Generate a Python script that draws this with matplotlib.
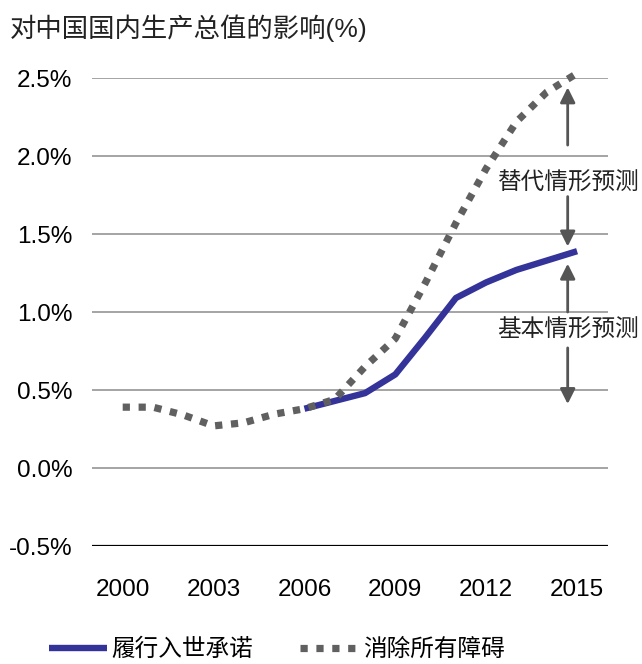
import matplotlib
matplotlib.use("Agg")
import matplotlib.pyplot as plt

# data
years = list(range(2000, 2016))
xiaochu = [0.39, 0.39, 0.34, 0.27, 0.29, 0.345, 0.38, 0.44, 0.65, 0.83,
           1.19, 1.57, 1.92, 2.22, 2.41, 2.53]
lvxing_years = list(range(2006, 2016))
lvxing = [0.38, 0.43, 0.48, 0.60, 0.84, 1.09, 1.19, 1.27, 1.33, 1.39]
xtick_years = [2000, 2003, 2006, 2009, 2012, 2015]
yticks = [-0.5, 0.0, 0.5, 1.0, 1.5, 2.0, 2.5]

title = "对中国国内生产总值的影响(%)"
label_lvxing = "履行入世承诺"
label_xiaochu = "消除所有障碍"
note_alt = "替代情形预测"
note_base = "基本情形预测"

fam = ["Liberation Sans", "Noto Sans CJK SC"]
plt.rcParams["font.family"] = fam

blue = "#333399"
gray = "#606060"
arrow_c = "#555555"

fig = plt.figure(figsize=(6.42, 6.64), dpi=100)
ax = fig.add_axes([0.143, 0.1777, 0.804, 0.7048])

for v in yticks:
    ax.axhline(v, color="black" if v == -0.5 else "#8c8c8c",
               lw=1.6 if v == -0.5 else 1.1, zorder=1)

ax.plot(lvxing_years, lvxing, color=blue, lw=4.6, solid_capstyle="butt",
        zorder=3, label=label_lvxing, clip_on=False)
ax.plot(years, xiaochu, color=gray, lw=5.2, linestyle=(0, (1.0, 1.2)),
        dash_capstyle="butt", zorder=4, label=label_xiaochu, clip_on=False)

ax.set_xlim(1998.98, 2016.02)
ax.set_ylim(-0.5, 2.5)
ax.set_xticks(xtick_years)
ax.set_xticklabels([str(y) for y in xtick_years])
ax.set_yticks(yticks)
ax.set_yticklabels(["%.1f%%" % v for v in yticks])
ax.tick_params(axis="both", length=0, labelsize=17.5)
ax.tick_params(axis="y", pad=14)
ax.tick_params(axis="x", pad=24)
for s in ax.spines.values():
    s.set_visible(False)

# arrows for the two scenario notes
ax_x = 2014.69
def arrow(y0, y1):
    ax.annotate("", xy=(ax_x, y1), xytext=(ax_x, y0),
                arrowprops=dict(arrowstyle="-|>,head_length=0.9,head_width=0.45",
                                color=arrow_c, lw=2, shrinkA=0, shrinkB=0),
                zorder=5)

arrow(2.07, 2.44)
arrow(1.74, 1.42)
arrow(1.00, 1.31)
arrow(0.77, 0.41)
ax.text(ax_x, 1.82, note_alt, ha="center", va="center", fontsize=17, color="#222222")
ax.text(ax_x, 0.88, note_base, ha="center", va="center", fontsize=17, color="#222222")

fig.text(0.0156, 0.958, title, ha="left", va="center", fontsize=19, color="#222222")

fig.legend(loc="lower left", bbox_to_anchor=(0.043, -0.028), ncol=2, frameon=False,
           fontsize=17, handlelength=2.45, handletextpad=0.2, columnspacing=2.0)

fig.savefig("out.png", dpi=100)
